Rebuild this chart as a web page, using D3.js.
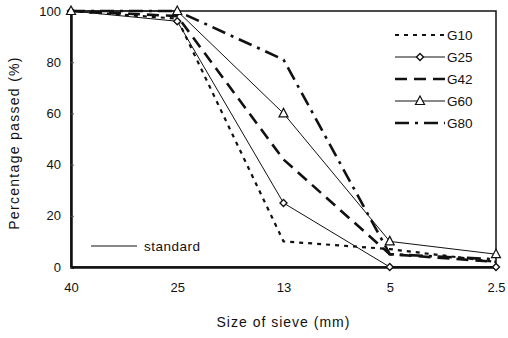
<!DOCTYPE html>
<html>
<head>
<meta charset="utf-8">
<script src="https://cdn.jsdelivr.net/npm/d3@7"></script>
<style>
  body { margin: 0; background: #fff; }
  text { font-family: Arial, "Liberation Sans", sans-serif; fill: #111; }
</style>
</head>
<body>
<div id="chart"></div>
<script>
/* DATA */
const sieves = ["40", "25", "13", "5", "2.5"];
const yTicks = [0, 20, 40, 60, 80, 100];
const seriesNames = ["G10", "G25", "G42", "G60", "G80"];
const g10 = [100, 97, 10, 7, 2];
const g25 = [100, 96, 25, 0, 0];
const g42 = [100, 98, 42, 5, 2];
const g60 = [100, 100, 60, 10, 5];
const g80 = [100, 100, 81, 5, 3];

const width = 508, height = 338;
const margin = { top: 11, right: 12, bottom: 71, left: 71 };

const svg = d3.select("#chart").append("svg")
  .attr("width", width).attr("height", height);

const x = d3.scalePoint().domain(sieves).range([margin.left, width - margin.right]);
const y = d3.scaleLinear().domain([0, 100]).range([height - margin.bottom, margin.top]);

// styles per series
const styles = {
  G10: { dash: "4,5", w: 2.2, marker: null },
  G25: { dash: null, w: 1, marker: "diamond" },
  G42: { dash: "12,7", w: 2.6, marker: null },
  G60: { dash: null, w: 1, marker: "triangle" },
  G80: { dash: "14,6,3,6", w: 2.6, marker: null }
};
const allData = [g10, g25, g42, g60, g80];

// frame
svg.append("rect")
  .attr("x", margin.left).attr("y", margin.top)
  .attr("width", width - margin.right - margin.left)
  .attr("height", height - margin.bottom - margin.top)
  .attr("fill", "none").attr("stroke", "#111").attr("stroke-width", 1.5);

// axes
const yAxis = svg.append("g")
  .attr("transform", `translate(${margin.left},0)`)
  .call(d3.axisLeft(y).tickValues(yTicks).tickSize(-3).tickPadding(10));
const xAxis = svg.append("g")
  .attr("transform", `translate(0,${height - margin.bottom})`)
  .call(d3.axisBottom(x).tickSize(0).tickPadding(16));
[xAxis, yAxis].forEach(a => {
  a.select(".domain").attr("stroke", "#111").attr("stroke-width", 2.5);
  a.selectAll("text").attr("font-size", 13).attr("fill", "#111")
    .attr("font-family", "Arial, 'Liberation Sans', sans-serif");
});
yAxis.selectAll(".tick line").attr("stroke", "#555").attr("stroke-width", 1);

// axis titles
svg.append("text")
  .attr("x", (margin.left + width - margin.right) / 2).attr("y", 327)
  .attr("text-anchor", "middle").attr("font-size", 14)
  .attr("letter-spacing", 1)
  .text("Size of sieve (mm)");
svg.append("text")
  .attr("transform", `translate(19,${(margin.top + height - margin.bottom) / 2 + 4}) rotate(-90)`)
  .attr("text-anchor", "middle").attr("font-size", 14)
  .attr("letter-spacing", 1.3)
  .text("Percentage passed (%)");

const line = d3.line().x((d, i) => x(sieves[i])).y(d => y(d));

function marker(g, type, cx, cy) {
  if (type === "diamond") {
    g.append("path")
      .attr("d", `M${cx},${cy - 3.5}L${cx + 3.5},${cy}L${cx},${cy + 3.5}L${cx - 3.5},${cy}Z`)
      .attr("fill", "#fff").attr("stroke", "#111").attr("stroke-width", 1.4);
  } else if (type === "triangle") {
    g.append("path")
      .attr("d", `M${cx},${cy - 5}L${cx + 4.5},${cy + 3.5}L${cx - 4.5},${cy + 3.5}Z`)
      .attr("fill", "#fff").attr("stroke", "#111").attr("stroke-width", 1.2);
  }
}

const plot = svg.append("g");
seriesNames.forEach((name, k) => {
  const s = styles[name];
  plot.append("path")
    .datum(allData[k])
    .attr("d", line)
    .attr("fill", "none").attr("stroke", "#111")
    .attr("stroke-width", s.w)
    .attr("stroke-dasharray", s.dash);
});
seriesNames.forEach((name, k) => {
  const s = styles[name];
  if (s.marker) {
    allData[k].forEach((v, i) => marker(plot, s.marker, x(sieves[i]), y(v)));
  }
});

// legend
const lg = svg.append("g");
seriesNames.forEach((name, k) => {
  const s = styles[name];
  const ly = 35 + k * 22;
  lg.append("line")
    .attr("x1", 395).attr("x2", 445).attr("y1", ly).attr("y2", ly)
    .attr("stroke", "#111").attr("stroke-width", s.w)
    .attr("stroke-dasharray", s.dash);
  if (s.marker) marker(lg, s.marker, 420, ly);
  lg.append("text").attr("x", 447).attr("y", ly + 5)
    .attr("font-size", 13.5).text(name);
});

// "standard" key
lg.append("line")
  .attr("x1", 91).attr("x2", 137).attr("y1", 246).attr("y2", 246)
  .attr("stroke", "#111").attr("stroke-width", 1);
lg.append("text").attr("x", 144).attr("y", 251)
  .attr("font-size", 13.5).attr("letter-spacing", 0.5).text("standard");
</script>
</body>
</html>
